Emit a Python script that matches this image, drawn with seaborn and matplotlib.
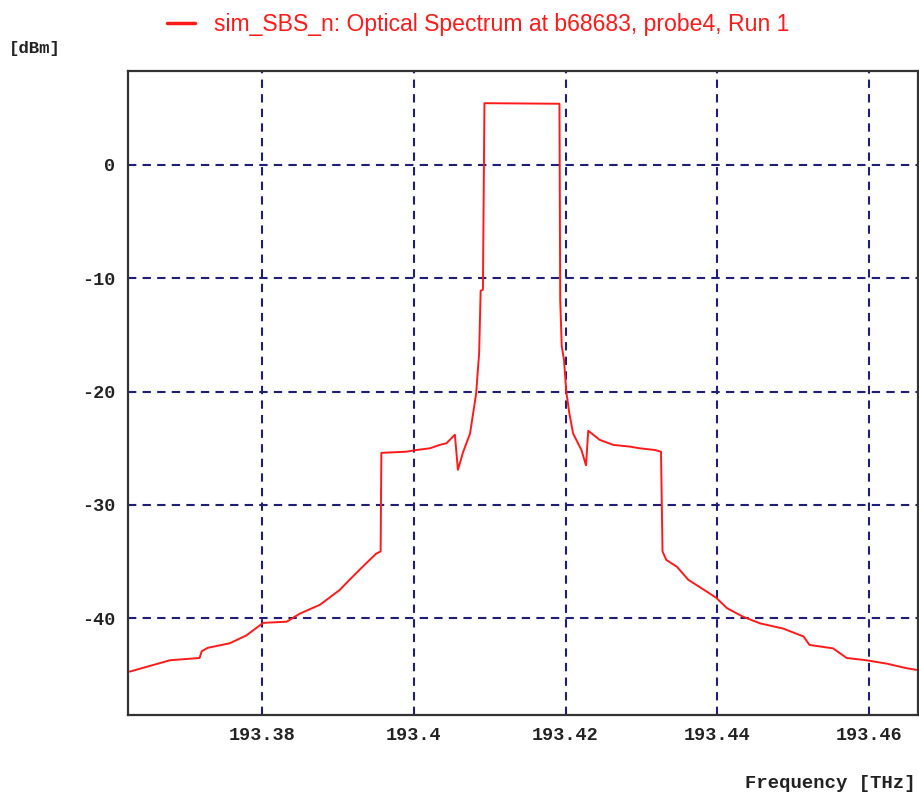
import numpy as np
import pandas as pd
import matplotlib
matplotlib.use("Agg")
import matplotlib.pyplot as plt
import seaborn as sns

# spectrum trace (THz, dBm)
freq_thz = [
    193.3625, 193.3678, 193.3717, 193.3720, 193.3728, 193.3757, 193.3779,
    193.3801, 193.3832, 193.3849, 193.3876, 193.3902, 193.3915, 193.3933,
    193.3950, 193.3956, 193.3957, 193.3990, 193.4003, 193.4021, 193.4034,
    193.4043, 193.4054, 193.4058, 193.4065, 193.4074, 193.4082, 193.4086,
    193.4088, 193.4091, 193.4093, 193.4192, 193.4193, 193.4195, 193.4198,
    193.4201, 193.4205, 193.4210, 193.4221, 193.4227, 193.4230, 193.4245,
    193.4263, 193.4285, 193.4298, 193.4318, 193.4326, 193.4328, 193.4333,
    193.4347, 193.4362, 193.4390, 193.4399, 193.4413, 193.4434, 193.4457,
    193.4487, 193.4514, 193.4522, 193.4553, 193.4571, 193.4597, 193.4624,
    193.4650, 193.4663,
]
power_dbm = [
    -44.7, -43.7, -43.5, -42.9, -42.6, -42.2, -41.5,
    -40.4, -40.3, -39.6, -38.8, -37.5, -36.6, -35.4,
    -34.3, -34.1, -25.4, -25.3, -25.15, -25.0, -24.7,
    -24.55, -23.8, -26.9, -25.3, -23.7, -20.2, -16.6,
    -11.1, -11.0, 5.45, 5.4, -11.9, -16.0, -17.2,
    -20.0, -21.9, -23.7, -25.15, -26.5, -23.45, -24.25,
    -24.7, -24.85, -25.0, -25.15, -25.3, -34.1, -34.85,
    -35.45, -36.6, -37.8, -38.2, -39.1, -39.85, -40.45,
    -40.9, -41.6, -42.35, -42.65, -43.5, -43.7, -44.0,
    -44.4, -44.55,
]

x_ticks = [193.38, 193.40, 193.42, 193.44, 193.46]
x_tick_labels = ["193.38", "193.4", "193.42", "193.44", "193.46"]
y_ticks = [0, -10, -20, -30, -40]
y_tick_labels = ["0", "-10", "-20", "-30", "-40"]

series_label = "sim_SBS_n: Optical Spectrum at b68683, probe4, Run 1"

df = pd.DataFrame({"freq": freq_thz, "power": power_dbm})

sns.set_style("white")
plt.rcParams["font.family"] = ["Liberation Sans", "DejaVu Sans"]
plt.rcParams["axes.unicode_minus"] = False

fig = plt.figure(figsize=(9.2, 8), dpi=100)
ax = fig.add_axes([0.1391, 0.10625, 0.8587, 0.805])

grid_col = "#1f1f7a"
ax.grid(True, color=grid_col, linestyle=(0, (4, 3)), linewidth=1.5)
ax.set_axisbelow(True)

sns.lineplot(data=df, x="freq", y="power", ax=ax, color="#ff1a1a",
             linewidth=1.4, label=series_label, sort=False)

ax.set_xlim(193.36226, 193.46651)
ax.set_ylim(-48.53, 8.29)

mono = dict(family="Liberation Mono", fontweight="bold", color="#222222")
ax.set_xticks(x_ticks)
ax.set_xticklabels(x_tick_labels, fontsize=13.3, **mono)
ax.set_yticks(y_ticks)
ax.set_yticklabels(y_tick_labels, fontsize=13.3, **mono)
ax.tick_params(axis="both", direction="inout", length=8, width=1.2,
               color="#222222", pad=5)

for side in ["left", "right", "top", "bottom"]:
    ax.spines[side].set_visible(True)
    ax.spines[side].set_color("#333333")
    ax.spines[side].set_linewidth(1.6)

ax.set_xlabel("")
ax.set_ylabel("")

fig.text(0.010, 0.94, "[dBm]", fontsize=12.5, ha="left", va="center", **mono)
fig.text(0.995, 0.021, "Frequency [THz]", fontsize=13.6, ha="right",
         va="center", **mono)

leg = ax.legend(loc="center", bbox_to_anchor=(0.52, 0.969),
                bbox_transform=fig.transFigure, frameon=False,
                handlelength=1.2, handletextpad=0.85, fontsize=16.6)
for t in leg.get_texts():
    t.set_color("#ff1a1a")
for h in leg.get_lines():
    h.set_linewidth(2.5)

fig.savefig("out.png", dpi=100)
